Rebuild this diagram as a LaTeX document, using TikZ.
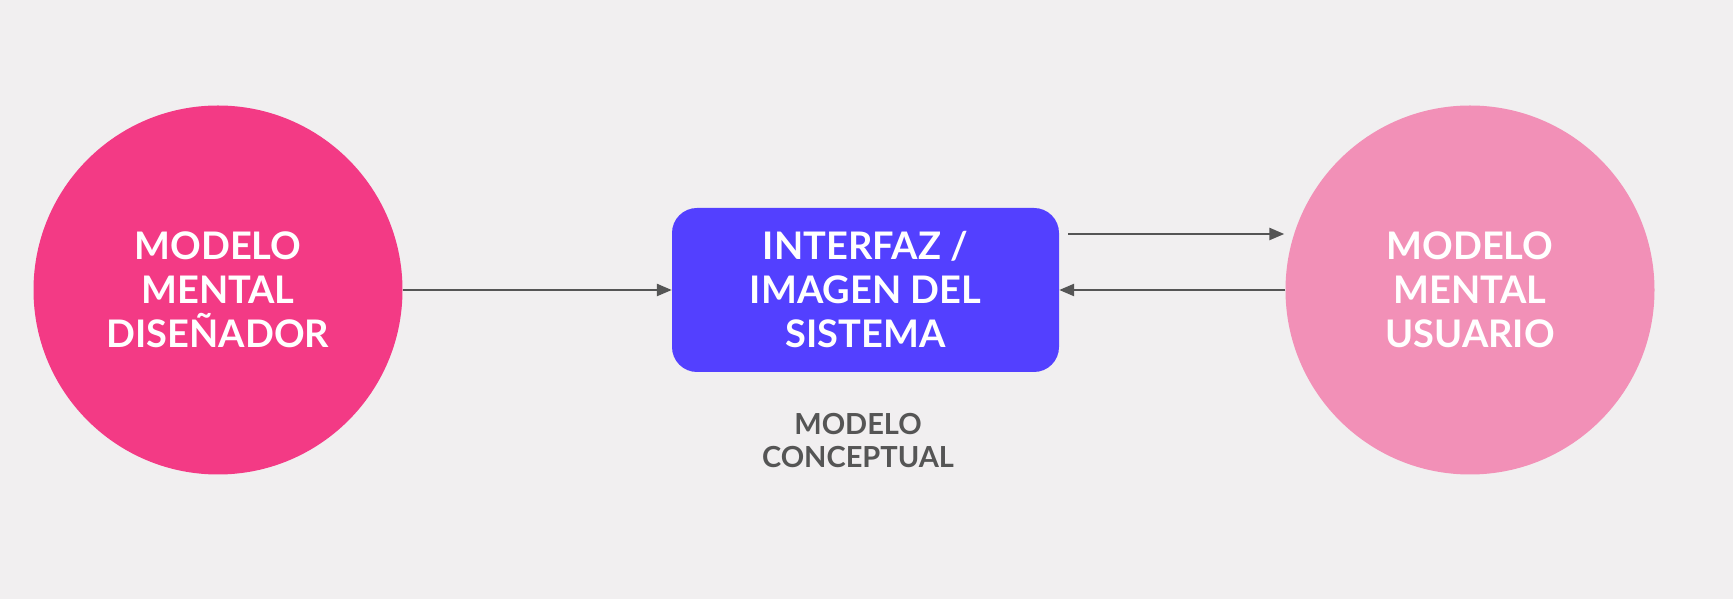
\documentclass[tikz,border=0pt]{standalone}
\usepackage{fontspec}
\setmainfont{Lato}
\usetikzlibrary{arrows.meta,positioning}
\definecolor{bgcol}{HTML}{F1EFF0}
\definecolor{designercol}{HTML}{F33A85}
\definecolor{systemcol}{HTML}{5340FF}
\definecolor{usercol}{HTML}{F290B7}
\definecolor{linecol}{HTML}{555555}

\begin{document}
\begin{tikzpicture}[x=1pt,y=1pt,>={Triangle[length=15pt,width=12pt]},
  model/.style={circle,minimum size=369pt,inner sep=0pt,text=white,align=center,
    font=\fontsize{38}{44}\selectfont\bfseries},
  sysbox/.style={rounded corners=25pt,minimum width=387pt,minimum height=164pt,
    inner sep=0pt,fill=systemcol,text=white,align=center,
    font=\fontsize{38}{44}\selectfont\bfseries},
  link/.style={->,color=linecol,line width=2.5pt}]
\fill[bgcol] (0,0) rectangle (1733,599);
\useasboundingbox (0,0) rectangle (1733,599);
\node[model,fill=designercol] (designer) at (218,309) {MODELO\\MENTAL\\DISEÑADOR};
\node[sysbox] (system) at (865.5,309) {INTERFAZ /\\IMAGEN DEL\\SISTEMA};
\node[model,fill=usercol] (user) at (1470,309) {MODELO\\MENTAL\\USUARIO};
\node[text=linecol,align=center,font=\fontsize{29}{33}\selectfont\bfseries] (concept) at (858,158) {MODELO\\CONCEPTUAL};
% conexiones
\coordinate (up) at ([yshift=56pt]system.east);
\draw[link] (designer) -- (system);
\draw[link,shorten <=9pt,shorten >=1pt] (up) -- (up -| user.west);
\draw[link] (user) -- (system);
\end{tikzpicture}
\end{document}
